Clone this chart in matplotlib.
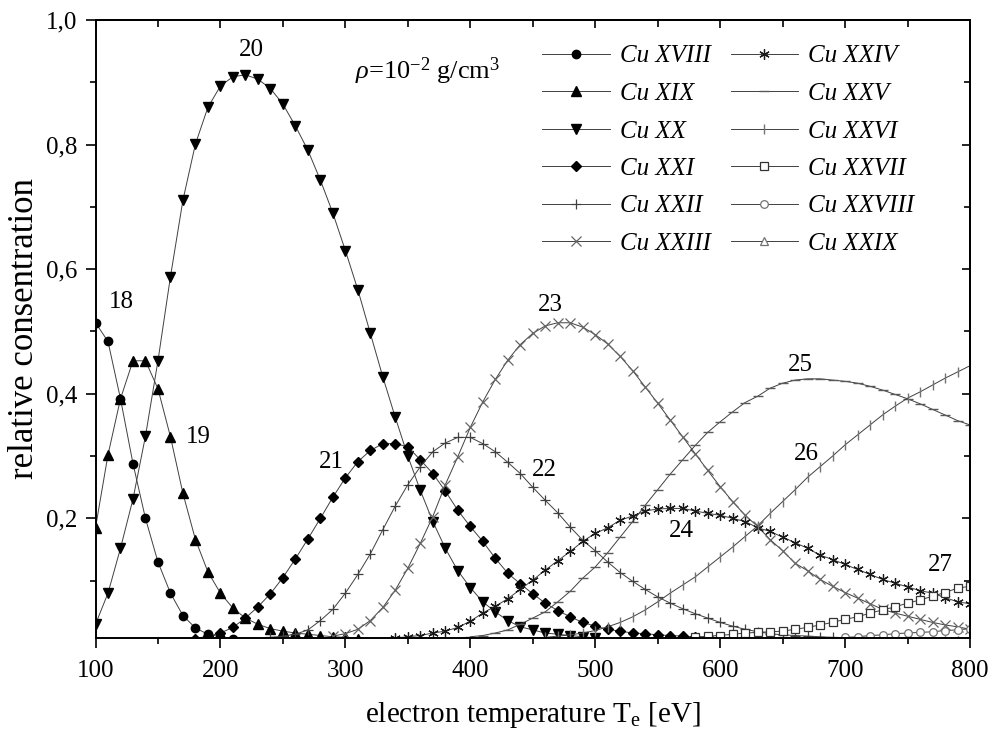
import numpy as np
import matplotlib
matplotlib.use('Agg')
import matplotlib.pyplot as plt
from matplotlib.ticker import MultipleLocator, FuncFormatter

plt.rcParams['font.family'] = ['Liberation Serif', 'DejaVu Serif']
plt.rcParams['mathtext.fontset'] = 'custom'
plt.rcParams['mathtext.rm'] = 'Liberation Serif'
plt.rcParams['mathtext.it'] = 'Liberation Serif:italic'

# electron temperature grid (eV) for each ion and its relative concentration
t18 = np.arange(100, 211, 10)
cu18 = [0.514, 0.484, 0.392, 0.288, 0.200, 0.130, 0.080, 0.044, 0.024, 0.014, 0.010, 0.007]

t19 = np.arange(100, 311, 10)
cu19 = [0.185, 0.302, 0.392, 0.453, 0.453, 0.408, 0.331, 0.240, 0.166, 0.114, 0.080,
        0.056, 0.040, 0.030, 0.023, 0.019, 0.016, 0.014, 0.012, 0.010, 0.009, 0.007]

t20 = np.arange(100, 501, 10)
cu20 = [0.030, 0.080, 0.152, 0.231, 0.332, 0.453, 0.588, 0.711, 0.801, 0.860, 0.894,
        0.909, 0.912, 0.905, 0.890, 0.865, 0.830, 0.791, 0.743, 0.690, 0.630, 0.567,
        0.497, 0.427, 0.362, 0.300, 0.245, 0.195, 0.152, 0.116, 0.089, 0.066, 0.050,
        0.036, 0.026, 0.021, 0.016, 0.014, 0.012, 0.010, 0.008]

t21 = np.arange(180, 601, 10)
cu21 = [0.007, 0.011, 0.016, 0.025, 0.040, 0.058, 0.079, 0.105, 0.135, 0.167, 0.200,
        0.234, 0.265, 0.291, 0.309, 0.320, 0.320, 0.315, 0.294, 0.272, 0.244, 0.213,
        0.187, 0.163, 0.136, 0.112, 0.095, 0.079, 0.064, 0.052, 0.042, 0.033, 0.027,
        0.022, 0.019, 0.016, 0.015, 0.013, 0.012, 0.011, 0.010, 0.009, 0.008]

t22 = np.arange(240, 701, 10)
cu22 = [0.009, 0.011, 0.014, 0.021, 0.036, 0.054, 0.080, 0.110, 0.143, 0.182, 0.220,
        0.254, 0.283, 0.307, 0.321, 0.330, 0.330, 0.320, 0.307, 0.290, 0.272, 0.250,
        0.229, 0.209, 0.186, 0.165, 0.148, 0.130, 0.113, 0.099, 0.086, 0.074, 0.064,
        0.055, 0.047, 0.040, 0.033, 0.027, 0.022, 0.018, 0.015, 0.013, 0.012, 0.011,
        0.010, 0.009, 0.008]

t23 = np.arange(290, 801, 10)
cu23 = [0.011, 0.015, 0.022, 0.036, 0.057, 0.085, 0.120, 0.160, 0.203, 0.254, 0.299,
        0.346, 0.387, 0.423, 0.454, 0.479, 0.497, 0.509, 0.514, 0.514, 0.507, 0.495,
        0.480, 0.460, 0.437, 0.411, 0.385, 0.358, 0.331, 0.304, 0.277, 0.251, 0.227,
        0.205, 0.187, 0.166, 0.148, 0.128, 0.116, 0.102, 0.091, 0.081, 0.072, 0.063,
        0.054, 0.048, 0.043, 0.038, 0.033, 0.029, 0.026, 0.022]

t24 = np.arange(340, 801, 10)
cu24 = [0.008, 0.010, 0.012, 0.016, 0.019, 0.025, 0.035, 0.048, 0.059, 0.071, 0.086,
        0.101, 0.117, 0.132, 0.147, 0.163, 0.176, 0.185, 0.197, 0.204, 0.212, 0.215,
        0.216, 0.216, 0.212, 0.208, 0.205, 0.200, 0.195, 0.185, 0.179, 0.170, 0.161,
        0.152, 0.141, 0.134, 0.126, 0.118, 0.110, 0.102, 0.096, 0.090, 0.084, 0.080,
        0.073, 0.066, 0.063]

t25 = np.arange(400, 801, 10)
cu25 = [0.010, 0.012, 0.016, 0.021, 0.030, 0.040, 0.050, 0.066, 0.083, 0.104, 0.122,
        0.145, 0.170, 0.195, 0.221, 0.246, 0.271, 0.294, 0.317, 0.338, 0.355, 0.371,
        0.386, 0.396, 0.409, 0.417, 0.422, 0.424, 0.424, 0.422, 0.420, 0.417, 0.412,
        0.406, 0.399, 0.392, 0.384, 0.375, 0.366, 0.357, 0.350]

t26 = np.arange(460, 801, 10)
cu26 = [0.009, 0.011, 0.013, 0.016, 0.020, 0.026, 0.033, 0.042, 0.053, 0.066, 0.080,
        0.093, 0.106, 0.122, 0.138, 0.154, 0.171, 0.188, 0.208, 0.227, 0.246, 0.266,
        0.283, 0.300, 0.318, 0.334, 0.350, 0.366, 0.380, 0.393, 0.403, 0.414, 0.425,
        0.435, 0.445]

t27 = np.arange(580, 801, 10)
cu27 = [0.009, 0.011, 0.012, 0.014, 0.016, 0.017, 0.018, 0.019, 0.022, 0.025, 0.029,
        0.033, 0.038, 0.042, 0.048, 0.053, 0.058, 0.064, 0.069, 0.075, 0.081, 0.088,
        0.091]

t28 = np.arange(700, 801, 10)
cu28 = [0.009, 0.010, 0.012, 0.013, 0.015, 0.016, 0.017, 0.018, 0.020, 0.021, 0.023]

t29 = np.arange(760, 801, 10)
cu29 = [0.002, 0.003, 0.004, 0.005, 0.006]

labels = ['Cu XVIII', 'Cu XIX', 'Cu XX', 'Cu XXI', 'Cu XXII', 'Cu XXIII',
          'Cu XXIV', 'Cu XXV', 'Cu XXVI', 'Cu XXVII', 'Cu XXVIII', 'Cu XXIX']

# annotation numbers placed next to each curve (T, value)
notes = [('18', 121, 0.547), ('19', 182, 0.331), ('20', 225, 0.952),
         ('21', 289, 0.291), ('22', 459, 0.278), ('23', 464, 0.542),
         ('24', 569, 0.179), ('25', 664, 0.446), ('26', 669, 0.303),
         ('27', 776, 0.125)]

styles = [
    dict(marker='o', ms=6, mfc='k', mec='k'),
    dict(marker='^', ms=7, mfc='k', mec='k'),
    dict(marker='v', ms=7, mfc='k', mec='k'),
    dict(marker='D', ms=5.3, mfc='k', mec='k'),
    dict(marker='+', ms=7, mec='0.25', mew=0.9),
    dict(marker='x', ms=6.5, mec='0.4', mew=0.9),
    dict(marker=(6, 2, 0), ms=7.5, mec='0.1', mew=0.9),
    dict(marker='_', ms=7, mec='0.35', mew=1.0),
    dict(marker='|', ms=7, mec='0.45', mew=1.0),
    dict(marker='s', ms=5.5, mfc='white', mec='0.2', mew=0.9),
    dict(marker='o', ms=5.5, mfc='white', mec='0.45', mew=0.9),
    dict(marker='^', ms=6, mfc='white', mec='0.45', mew=0.9),
]

series = [(t18, cu18), (t19, cu19), (t20, cu20), (t21, cu21), (t22, cu22), (t23, cu23),
          (t24, cu24), (t25, cu25), (t26, cu26), (t27, cu27), (t28, cu28), (t29, cu29)]

fig = plt.figure(figsize=(9.94, 7.37), dpi=100)
ax = fig.add_axes([95.5 / 994, 1 - 638 / 737, (970 - 95.5) / 994, (638 - 20) / 737])

for (t, v), st, lab in zip(series, styles, labels):
    ax.plot(t, v, color='0.25', lw=0.7, label=lab, **st)

ax.set_xlim(100, 800)
ax.set_ylim(0.008, 1.0)

ax.xaxis.set_major_locator(MultipleLocator(100))
ax.xaxis.set_minor_locator(MultipleLocator(50))
ax.yaxis.set_major_locator(MultipleLocator(0.2))
ax.yaxis.set_minor_locator(MultipleLocator(0.1))
ax.yaxis.set_major_formatter(FuncFormatter(lambda v, p: ('%.1f' % v).replace('.', ',')))
ax.xaxis.set_major_formatter(FuncFormatter(lambda v, p: '%d' % v))

ax.tick_params(which='major', direction='out', length=7, width=1.2, labelsize=18, pad=6)
ax.tick_params(axis='x', which='major', pad=9)
ax.tick_params(which='minor', direction='out', length=4, width=1.2)
for s in ax.spines.values():
    s.set_linewidth(1.4)

top = ax.secondary_xaxis('top')
top.xaxis.set_major_locator(MultipleLocator(100))
top.xaxis.set_minor_locator(MultipleLocator(50))
top.tick_params(which='major', direction='in', length=6, width=1.2, labeltop=False)
top.tick_params(which='minor', direction='in', length=5, width=1.2)
right = ax.secondary_yaxis('right')
right.yaxis.set_major_locator(MultipleLocator(0.2))
right.yaxis.set_minor_locator(MultipleLocator(0.1))
right.tick_params(which='major', direction='in', length=6, width=1.2, labelright=False)
right.tick_params(which='minor', direction='in', length=4, width=1.2)
for sa in (top, right):
    for s in sa.spines.values():
        s.set_linewidth(1.4)

ax.set_xlabel('electron temperature T$_{\\mathregular{e}}$ [eV]', fontsize=21, labelpad=13)
ax.set_ylabel('relative consentration', fontsize=25, labelpad=4)

for txt, x, y in notes:
    ax.text(x, y, txt, fontsize=18, ha='center', va='center')

ax.text(308, 0.917, '$\\rho$=10$^{\\mathregular{-2}}$ g/cm$^{\\mathregular{3}}$',
        fontsize=19, ha='left', va='center')

ax.legend(loc='upper left', bbox_to_anchor=(542 / 994, 1 - 45 / 737),
          bbox_transform=fig.transFigure, ncol=2, frameon=False, numpoints=1,
          prop={'family': 'Liberation Serif', 'style': 'italic', 'size': 18},
          handlelength=2.7, handletextpad=0.4, columnspacing=0.8,
          labelspacing=0.6, borderpad=0, borderaxespad=0)

fig.savefig('out.png', dpi=100)
